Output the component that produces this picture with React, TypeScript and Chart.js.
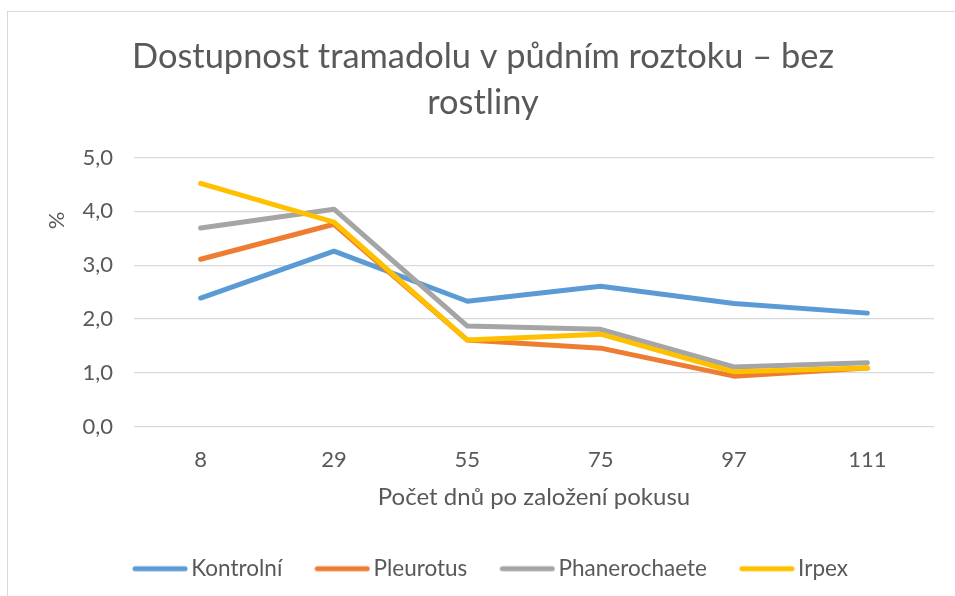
import React, { useEffect, useRef } from "react";
import { Chart, registerables } from "chart.js";

Chart.register(...registerables);

const categories = ["8", "29", "55", "75", "97", "111"];
const kontrolni = [2.39, 3.26, 2.33, 2.61, 2.29, 2.11];
const pleurotus = [3.11, 3.76, 1.61, 1.46, 0.94, 1.09];
const phanerochaete = [3.69, 4.04, 1.87, 1.81, 1.11, 1.19];
const irpex = [4.52, 3.8, 1.61, 1.72, 1.02, 1.09];
const seriesNames = ["Kontrolní", "Pleurotus", "Phanerochaete", "Irpex"];
const seriesColors = ["#5B9BD5", "#ED7D31", "#A5A5A5", "#FFC000"];
const titleLines = ["Dostupnost tramadolu v půdním roztoku – bez", "rostliny"];
const xTitle = "Počet dnů po založení pokusu";
const yTitle = "%";

const FONT = "Lato";
const TEXT = "#595959";

function legendLine(color: string): HTMLCanvasElement {
  const c = document.createElement("canvas");
  c.width = 56;
  c.height = 8;
  const g = c.getContext("2d")!;
  g.strokeStyle = color;
  g.lineWidth = 5;
  g.lineCap = "round";
  g.beginPath();
  g.moveTo(3, 4);
  g.lineTo(53, 4);
  g.stroke();
  return c;
}

const yTitlePlugin = {
  id: "yTitlePlugin",
  afterLayout(chart: any) {
    if (chart.legend) {
      chart.legend.left += 11;
      chart.legend.right += 11;
    }
  },
  afterDraw(chart: any) {
    const { ctx, chartArea } = chart;
    ctx.save();
    ctx.translate(chartArea.left - 77, chartArea.top + 63);
    ctx.rotate(-Math.PI / 2);
    ctx.fillStyle = TEXT;
    ctx.font = `22px ${FONT}`;
    ctx.textAlign = "center";
    ctx.textBaseline = "middle";
    ctx.fillText(yTitle, 0, 0);
    ctx.restore();
  },
};

export default function App() {
  const ref = useRef<HTMLCanvasElement | null>(null);
  useEffect(() => {
    if (!ref.current) return;
    const data = [kontrolni, pleurotus, phanerochaete, irpex];
    const chart = new Chart(ref.current, {
      type: "line",
      data: {
        labels: categories,
        datasets: data.map((d, i) => ({
          label: seriesNames[i],
          data: d,
          borderColor: seriesColors[i],
          backgroundColor: seriesColors[i],
          borderWidth: 5,
          borderCapStyle: "round" as const,
          borderJoinStyle: "round" as const,
          pointRadius: 0,
          pointStyle: legendLine(seriesColors[i]) as any,
          tension: 0,
          order: 4 - i,
        })),
      },
      options: {
        animation: false,
        responsive: false,
        maintainAspectRatio: false,
        layout: { padding: { left: 32, right: 21, top: 0, bottom: 6 } },
        plugins: {
          title: {
            display: true,
            text: titleLines,
            color: TEXT,
            font: { family: FONT, size: 34.4, weight: "normal" as const, lineHeight: 1.33 },
            padding: { top: 34, bottom: 32 },
          },
          legend: {
            position: "bottom",
            labels: {
              color: TEXT,
              font: { family: FONT, size: 22.5 },
              usePointStyle: true,
              pointStyleWidth: 40,
              padding: 40,
              sort: (a: any, b: any) => a.datasetIndex - b.datasetIndex,
            },
          },
          tooltip: { enabled: false },
        },
        scales: {
          x: {
            offset: true,
            afterFit(scale: any) {
              scale.height = 90.75;
            },
            grid: { display: false, drawTicks: false },
            border: { display: false },
            ticks: { color: TEXT, font: { family: FONT, size: 22 }, padding: 20 },
            title: {
              display: true,
              text: xTitle,
              color: TEXT,
              font: { family: FONT, size: 24 },
              padding: { top: 0, bottom: 5.4 },
            },
          },
          y: {
            min: 0,
            max: 5,
            afterFit(scale: any) {
              scale.width = 102;
            },
            grid: { color: "#D9D9D9", lineWidth: 1.3, drawTicks: false },
            border: { display: false },
            ticks: {
              stepSize: 1,
              color: TEXT,
              font: { family: FONT, size: 22 },
              padding: 21,
              callback: (v: any) => Number(v).toFixed(1).replace(".", ","),
            },
          },
        },
      },
      plugins: [yTitlePlugin],
    });
    return () => chart.destroy();
  }, []);
  return (
    <div style={{ position: "fixed", left: 0, top: 0, width: 955, height: 596, background: "#fff" }}>
      <div
        style={{
          position: "absolute",
          left: 7,
          top: 11,
          width: 960,
          height: 600,
          borderLeft: "1px solid #D9D9D9",
          borderTop: "1px solid #D9D9D9",
        }}
      />
      <canvas ref={ref} width={955} height={596} style={{ position: "absolute", left: 0, top: 0 }} />
    </div>
  );
}
